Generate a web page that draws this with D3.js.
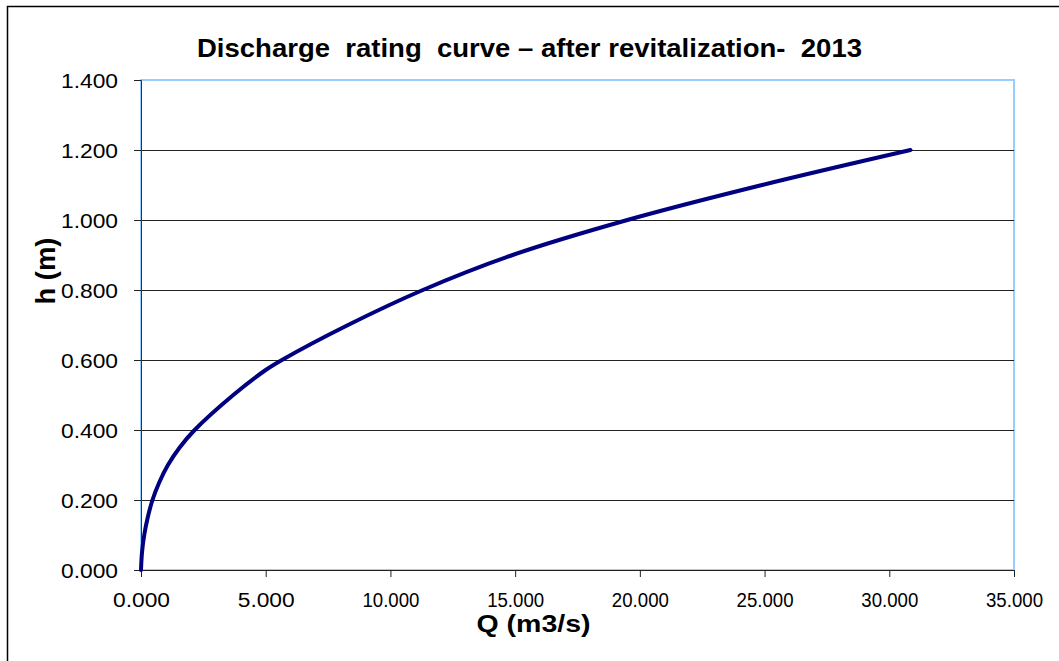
<!DOCTYPE html>
<html>
<head>
<meta charset="utf-8">
<script src="https://cdn.jsdelivr.net/npm/d3@7"></script>
<style>
	body { margin: 0; background: #fff; }
	text { font-family: "Liberation Sans", Arial, sans-serif; fill: #000; }
</style>
</head>
<body>
<svg id="chart" width="1059" height="661"></svg>
<script>
// rating curve: h (m) vs Q (m3/s)
var hValues = [0, 0.05, 0.1, 0.15, 0.2, 0.25, 0.3, 0.35, 0.4, 0.5, 0.57, 0.6, 0.7, 0.8, 0.9, 1.0, 1.1, 1.2];
var qValues = [0, 0.04, 0.13, 0.27, 0.46, 0.73, 1.08, 1.55, 2.15, 3.7, 4.97, 5.65, 8.3, 11.3, 14.9, 19.5, 24.9, 30.85];
var xTicks = [0, 5, 10, 15, 20, 25, 30, 35];
var yTicks = [0, 0.2, 0.4, 0.6, 0.8, 1.0, 1.2, 1.4];

var svg = d3.select('#chart'),
	margin = { top: 80, right: 45, bottom: 91, left: 141 },
	width = +svg.attr('width') - margin.left - margin.right,
	height = +svg.attr('height') - margin.top - margin.bottom;

// outer chart frame
svg.append('rect')
	.attr('x', 7.5).attr('y', 6.5)
	.attr('width', 1100).attr('height', 700)
	.attr('fill', 'none').attr('stroke', '#000').attr('stroke-width', 1.5);

var g = svg.append('g').attr('transform', 'translate(' + margin.left + ',' + margin.top + ')');

var scaleX = d3.scaleLinear().domain([0, 35]).range([0, width]);
var scaleY = d3.scaleLinear().domain([0, 1.4]).range([height, 0]);

var data = hValues.map(function (h, i) { return { q: qValues[i], h: h }; });

// plot area border
g.append('rect')
	.attr('x', 0).attr('y', 0)
	.attr('width', width).attr('height', height)
	.attr('fill', 'none').attr('stroke', '#99ccff').attr('stroke-width', 2);

// horizontal grid
g.append('g').selectAll('line')
	.data(yTicks.slice(1, -1))
	.enter().append('line')
	.attr('x1', 0).attr('x2', width)
	.attr('y1', function (d) { return Math.round(scaleY(d)) + 0.5; })
	.attr('y2', function (d) { return Math.round(scaleY(d)) + 0.5; })
	.attr('stroke', '#222').attr('stroke-width', 1);

var fmt = d3.format('.3f');

var xAxis = g.append('g')
	.attr('transform', 'translate(0,' + height + ')')
	.call(d3.axisBottom(scaleX).tickValues(xTicks).tickFormat(fmt).tickSizeOuter(0).tickSize(7));
xAxis.select('.domain').attr('stroke', '#222');
xAxis.selectAll('.tick line').attr('stroke', '#222');
xAxis.selectAll('text')
	.attr('font-size', 20).attr('dy', 0).attr('y', 37)
	.attr('textLength', 57).attr('lengthAdjust', 'spacingAndGlyphs');

var yAxis = g.append('g')
	.call(d3.axisLeft(scaleY).tickValues(yTicks).tickFormat(fmt).tickSizeOuter(0).tickSize(7));
yAxis.select('.domain').attr('stroke', '#1f3550');
yAxis.selectAll('.tick line').attr('stroke', '#222');
yAxis.selectAll('text')
	.attr('font-size', 20).attr('x', -23).attr('dy', '0.36em')
	.attr('textLength', 57).attr('lengthAdjust', 'spacingAndGlyphs');

var line = d3.line()
	.x(function (d) { return scaleX(d.q); })
	.y(function (d) { return scaleY(d.h); })
	.curve(d3.curveCatmullRom);

g.append('path')
	.datum(data)
	.attr('fill', 'none')
	.attr('stroke', '#000080')
	.attr('stroke-width', 4)
	.attr('stroke-linejoin', 'round')
	.attr('stroke-linecap', 'round')
	.attr('d', line);

// titles
svg.append('text')
	.attr('x', 529.5).attr('y', 57)
	.attr('text-anchor', 'middle')
	.attr('font-size', 25).attr('font-weight', 'bold')
	.attr('textLength', 665).attr('lengthAdjust', 'spacingAndGlyphs')
	.style('white-space', 'pre')
	.text('Discharge  rating  curve \u2013 after revitalization-  2013');

svg.append('text')
	.attr('x', 533.5).attr('y', 632)
	.attr('text-anchor', 'middle')
	.attr('font-size', 24).attr('font-weight', 'bold')
	.attr('textLength', 114).attr('lengthAdjust', 'spacingAndGlyphs')
	.text('Q (m3/s)');

svg.append('text')
	.attr('transform', 'translate(55,271) scale(1.15,1) rotate(-90)')
	.attr('text-anchor', 'middle')
	.attr('font-size', 24).attr('font-weight', 'bold')
	.attr('textLength', 67).attr('lengthAdjust', 'spacingAndGlyphs')
	.text('h (m)');
</script>
</body>
</html>
